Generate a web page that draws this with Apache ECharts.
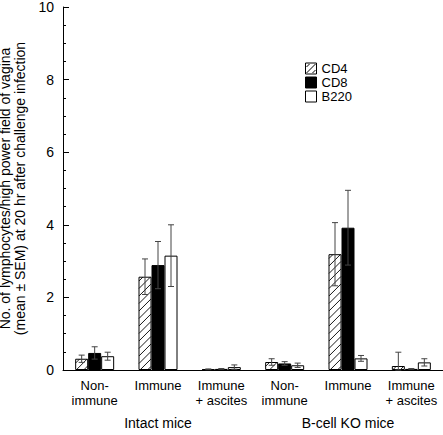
<!DOCTYPE html>
<html><head><meta charset="utf-8">
<script src="https://cdn.jsdelivr.net/npm/echarts@6/dist/echarts.min.js"></script>
<style>html,body{margin:0;padding:0;background:#fff}#c{width:443px;height:435px}</style>
</head><body><div id="c"></div>
<script>
var categories = ['Non-\nimmune', 'Immune', 'Immune\n+ ascites', 'Non-\nimmune', 'Immune', 'Immune\n+ ascites'];
var groups = ['Intact mice', 'B-cell KO mice'];
var seriesNames = ['CD4', 'CD8', 'B220'];
var cd4 = [0.31, 2.57, 0.02, 0.22, 3.19, 0.11];
var cd4Sem = [0.10, 0.49, 0.01, 0.09, 0.87, 0.38];
var cd8 = [0.47, 2.89, 0.03, 0.18, 3.92, 0.03];
var cd8Sem = [0.17, 0.65, 0.01, 0.05, 1.03, 0.01];
var b220 = [0.38, 3.15, 0.08, 0.13, 0.32, 0.21];
var b220Sem = [0.11, 0.85, 0.06, 0.06, 0.08, 0.10];
var yTicks = [0, 2, 4, 6, 8, 10];

var hatchIcon = 'path://M0,0L11,0L11,11L0,11Z M1,10L10,1 M1,4L4,1 M7,10L10,7';
var fills = ['#fff', '#000', '#fff'];
var vals = [cd4, cd8, b220];
var sems = [cd4Sem, cd8Sem, b220Sem];
var BW = 13;
var font = "'Liberation Sans', Arial, sans-serif";

var series = [];
vals.forEach(function (v, i) {
  series.push({
    name: seriesNames[i], type: 'bar', data: v, barWidth: BW, barGap: '0%',
    itemStyle: {color: fills[i], borderColor: '#000', borderWidth: 1},
    emphasis: {disabled: true}, z: 2
  });
});
// hatch lines for CD4 bars
series.push({
  type: 'custom', data: cd4.map(function (x, k) { return [k, x]; }), z: 3, silent: true,
  renderItem: function (params, api) {
    var k = api.value(0), m = api.value(1);
    var p1 = api.coord([k, m]), p0 = api.coord([k, 0]);
    var x0 = p1[0] - 1.5 * BW + 0.5, x1 = p1[0] - 0.5 * BW - 0.5;
    var y0 = p1[1] + 0.5, y1 = p0[1] - 0.5;
    var children = [];
    var step = 7.5;
    for (var c = x0 + y0 + step / 2; c < x1 + y1; c += step) {
      var xa = Math.max(x0, c - y1), xb = Math.min(x1, c - y0);
      if (xb <= xa) continue;
      children.push({type: 'line', shape: {x1: xa, y1: c - xa, x2: xb, y2: c - xb},
        style: {stroke: '#000', lineWidth: 0.9}});
    }
    return {type: 'group', children: children};
  }
});
vals.forEach(function (v, i) {
  var data = v.map(function (x, k) { return [k, x, sems[i][k]]; });
  series.push({
    type: 'custom', data: data, z: 5, silent: true,
    renderItem: function (params, api) {
      var k = api.value(0), m = api.value(1), s = api.value(2);
      var off = (i - 1) * BW;
      var top = api.coord([k, m + s]);
      var bot = api.coord([k, Math.max(0, m - s)]);
      var x = top[0] + off;
      var cw = 3;
      var st = {stroke: '#444', lineWidth: 1};
      return {type: 'group', children: [
        {type: 'line', shape: {x1: x, y1: top[1], x2: x, y2: bot[1]}, style: st},
        {type: 'line', shape: {x1: x - cw, y1: top[1], x2: x + cw, y2: top[1]}, style: st},
        {type: 'line', shape: {x1: x - cw, y1: bot[1], x2: x + cw, y2: bot[1]}, style: st}
      ]};
    }
  });
});

var chart = echarts.init(document.getElementById('c'), null, {renderer: 'svg'});
chart.setOption({
  animation: false,
  textStyle: {fontFamily: font, color: '#000'},
  grid: {left: 63, right: 0, top: 7, bottom: 65, containLabel: false, outerBoundsMode: 'none'},
  legend: {
    data: [{name: 'CD4', icon: hatchIcon, itemStyle: {color: '#fff', borderColor: '#000', borderWidth: 1}},
           {name: 'CD8', icon: 'rect'}, {name: 'B220', icon: 'rect'}],
    orient: 'vertical', left: 305, top: 62, padding: 0, itemWidth: 11, itemHeight: 11, itemGap: 1,
    textStyle: {fontSize: 13, fontFamily: font, color: '#000', lineHeight: 12},
    itemStyle: {borderColor: '#000', borderWidth: 1}
  },
  xAxis: [{
    type: 'category', data: categories,
    axisLine: {lineStyle: {color: '#000', width: 1}}, axisTick: {show: false},
    axisLabel: {interval: 0, color: '#000', fontSize: 13, fontFamily: font, margin: 8, lineHeight: 15}
  }, {
    type: 'category', data: groups, position: 'bottom', offset: 38,
    axisLine: {show: false}, axisTick: {show: false},
    axisLabel: {interval: 0, color: '#000', fontSize: 14, fontFamily: font}
  }],
  yAxis: {
    type: 'value', min: 0, max: 10, interval: 2,
    name: 'No. of lymphocytes/high power field of vagina\n(mean \u00b1 SEM) at 20 hr after challenge infection',
    nameLocation: 'middle', nameGap: 25,
    nameTextStyle: {fontSize: 14, fontFamily: font, color: '#000', lineHeight: 15},
    axisLine: {show: true, lineStyle: {color: '#000', width: 1}},
    axisTick: {show: true, inside: true, length: 6, lineStyle: {color: '#000'}},
    minorTick: {show: true, splitNumber: 4, length: 3, lineStyle: {color: '#000'}},
    splitLine: {show: false},
    axisLabel: {color: '#000', fontSize: 14, fontFamily: font, margin: 9,
      formatter: function (v) { return yTicks.indexOf(v) >= 0 ? String(v) : ''; }}
  },
  series: series
});
</script></body></html>
